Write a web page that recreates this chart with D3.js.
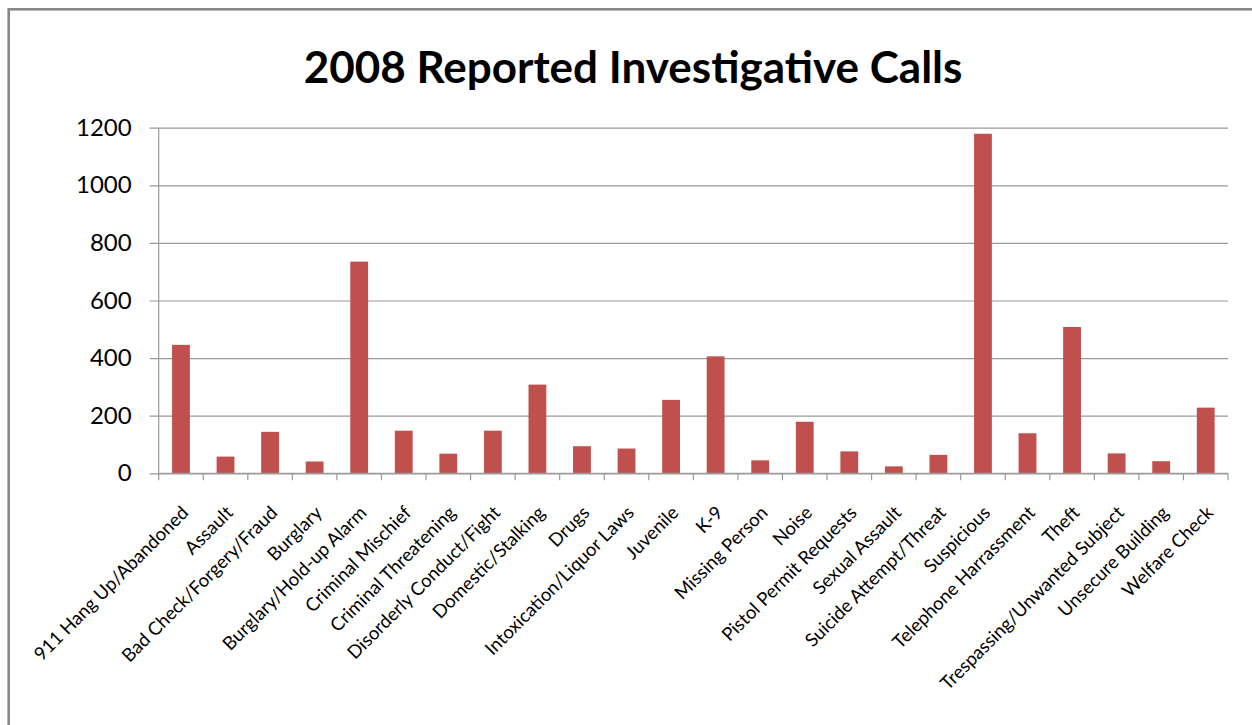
<!DOCTYPE html>
<html>
<head>
<meta charset="utf-8">
<script src="https://cdn.jsdelivr.net/npm/d3@7"></script>
<style>
    body { margin: 0; background: #fff; }
    #chart { width: 1252px; height: 725px; }
    text { font-family: Lato, "Open Sans", sans-serif; fill: #000; }
</style>
</head>
<body>
<div id="chart"></div>
<script>
// values
const categories = [
    "911 Hang Up/Abandoned", "Assault", "Bad Check/Forgery/Fraud", "Burglary",
    "Burglary/Hold-up Alarm", "Criminal Mischief", "Criminal Threatening",
    "Disorderly Conduct/Fight", "Domestic/Stalking", "Drugs", "Intoxication/Liquor Laws",
    "Juvenile", "K-9", "Missing Person", "Noise", "Pistol Permit Requests",
    "Sexual Assault", "Suicide Attempt/Threat", "Suspicious", "Telephone Harrassment",
    "Theft", "Trespassing/Unwanted Subject", "Unsecure Building", "Welfare Check"
];
const callCounts = [446, 58, 144, 41, 735, 148, 68, 148, 308, 94, 86,
    255, 406, 45, 179, 76, 24, 64, 1179, 139, 508, 69, 42, 228];
const yTicks = [0, 200, 400, 600, 800, 1000, 1200];
const chartTitle = "2008 Reported Investigative Calls";

const fullW = 1252, fullH = 725;
const margin = {top: 127.7, right: 24, bottom: 251.7, left: 158.7};
const width = fullW - margin.left - margin.right;
const height = fullH - margin.top - margin.bottom;

const root = d3.select("#chart").append("svg")
    .attr("width", fullW)
    .attr("height", fullH);

// outer chart border (only top and left show in the picture)
root.append("rect")
    .attr("x", 8.7)
    .attr("y", 9.3)
    .attr("width", fullW + 20)
    .attr("height", fullH + 20)
    .attr("fill", "#fff")
    .attr("stroke", "#878787")
    .attr("stroke-width", 2.6);

root.append("text")
    .attr("x", 633)
    .attr("y", 83)
    .attr("text-anchor", "middle")
    .attr("font-size", "44px")
    .attr("font-weight", "bold")
    .text(chartTitle);

const svg = root.append("g")
    .attr("transform", "translate(" + margin.left + "," + margin.top + ")");

// scales
const x = d3.scaleBand()
    .domain(categories)
    .range([0, width])
    .paddingInner(0.6)
    .paddingOuter(0.3);

const y = d3.scaleLinear()
    .domain([0, 1200])
    .range([height, 0]);

// gridlines + y axis
const yAxis = d3.axisLeft(y)
    .tickValues(yTicks)
    .tickSize(-width - 9)
    .tickPadding(18)
    .tickFormat(d3.format("d"));

svg.append("g")
    .attr("class", "y-axis")
    .attr("transform", "translate(-9,0)")
    .call(yAxis)
    .call(g => g.select(".domain").remove())
    .call(g => g.selectAll(".tick line").attr("stroke", "#9a9a9a").attr("stroke-width", 1.2))
    .call(g => g.selectAll(".tick text")
        .attr("font-size", "24px")
        .attr("font-family", "Lato, sans-serif")
        .attr("fill", "#000"));

svg.append("line")
    .attr("x1", 0).attr("x2", 0)
    .attr("y1", 0).attr("y2", height)
    .attr("stroke", "#9a9a9a")
    .attr("stroke-width", 1.2);

// bars
svg.selectAll(".bar")
    .data(categories)
    .enter().append("rect")
    .attr("class", "bar")
    .attr("x", d => x(d))
    .attr("width", x.bandwidth())
    .attr("y", (d, i) => y(callCounts[i]))
    .attr("height", (d, i) => height - y(callCounts[i]))
    .attr("fill", "#C0504D");

// x axis line and tick marks at category boundaries
svg.append("line")
    .attr("x1", 0).attr("x2", width)
    .attr("y1", height).attr("y2", height)
    .attr("stroke", "#9a9a9a")
    .attr("stroke-width", 1.2);

svg.selectAll(".xtick")
    .data(d3.range(categories.length + 1))
    .enter().append("line")
    .attr("class", "xtick")
    .attr("x1", i => i * x.step())
    .attr("x2", i => i * x.step())
    .attr("y1", height)
    .attr("y2", height + 7)
    .attr("stroke", "#9a9a9a")
    .attr("stroke-width", 1.2);

// rotated category labels
svg.selectAll(".xlabel")
    .data(categories)
    .enter().append("text")
    .attr("class", "xlabel")
    .attr("text-anchor", "end")
    .attr("font-size", "18.5px")
    .attr("transform", d => {
        let cx = x(d) + x.bandwidth() / 2 + 4;
        return "translate(" + cx + "," + (height + 36) + ") rotate(-45)";
    })
    .attr("dy", "0.35em")
    .text(d => d);
</script>
</body>
</html>
